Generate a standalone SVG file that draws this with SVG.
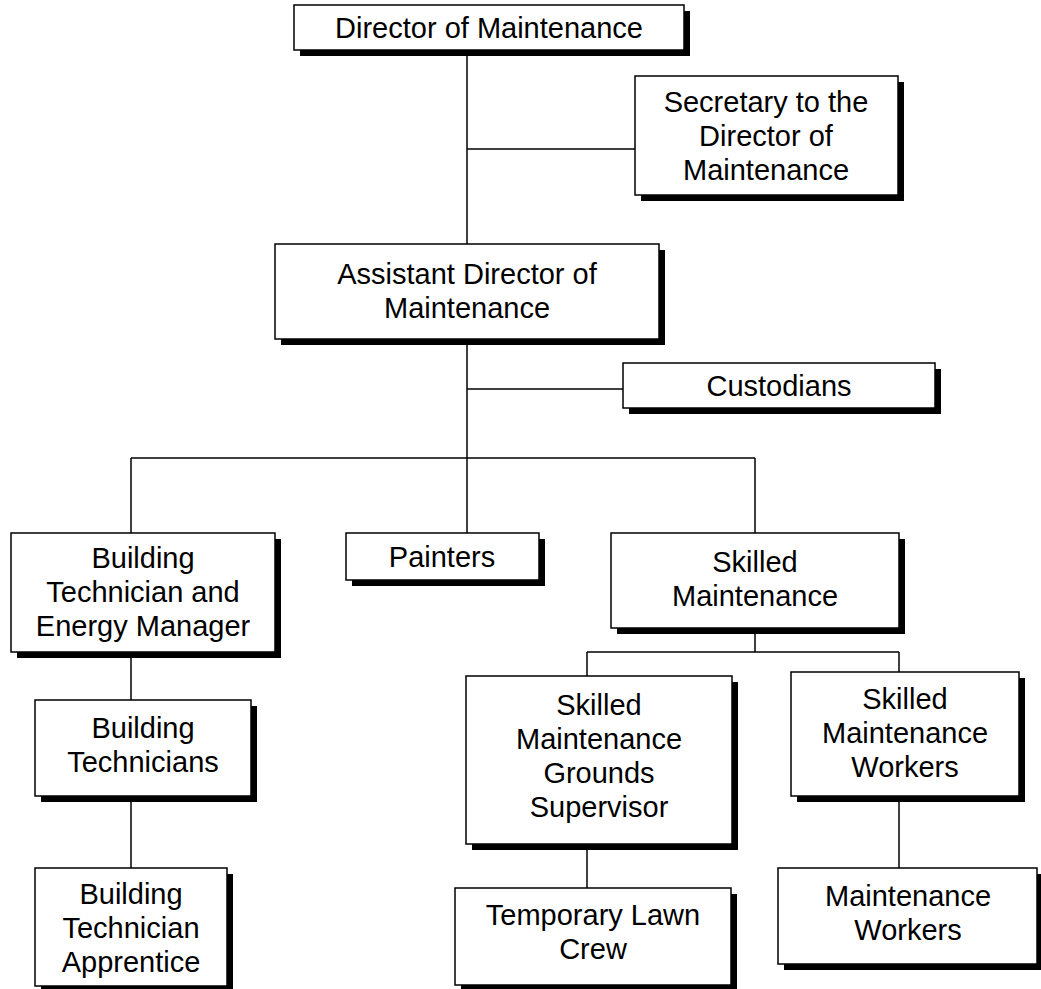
<svg xmlns="http://www.w3.org/2000/svg" width="1041" height="989" viewBox="0 0 1041 989">
  <style>
    .box { fill: #ffffff; stroke: #000000; stroke-width: 1.5; }
    .shadow { fill: #000000; }
    .lbl { font-family: "Liberation Sans", Arial, sans-serif; font-size: 29px; fill: #000000; text-anchor: middle; }
    .conn { fill: none; stroke: #000000; stroke-width: 1.5; }
  </style>
  <rect width="1041" height="989" fill="#ffffff"/>

  <!-- connectors -->
  <g id="connectors" class="conn">
    <path d="M467 50 V244"/>
    <path d="M467 149 H635"/>
    <path d="M467 339 V533"/>
    <path d="M467 389 H623"/>
    <path d="M131 458 H755"/>
    <path d="M131 458 V533"/>
    <path d="M755 458 V533"/>
    <path d="M131 652 V700"/>
    <path d="M131 796 V868"/>
    <path d="M755 628 V652"/>
    <path d="M587 652 H899"/>
    <path d="M587 652 V676"/>
    <path d="M899 652 V672"/>
    <path d="M587 844 V888"/>
    <path d="M899 796 V868"/>
  </g>

  <g id="director">
    <rect class="shadow" x="300" y="11" width="390" height="45"/>
    <rect class="box" x="294" y="5" width="390" height="45"/>
    <text class="lbl" x="489" y="38">Director of Maintenance</text>
  </g>

  <g id="secretary">
    <rect class="shadow" x="641" y="82" width="263" height="119"/>
    <rect class="box" x="635" y="76" width="263" height="119"/>
    <text class="lbl" x="766" y="112">Secretary to the</text>
    <text class="lbl" x="766" y="146">Director of</text>
    <text class="lbl" x="766" y="180">Maintenance</text>
  </g>

  <g id="assistant-director">
    <rect class="shadow" x="281" y="250" width="384" height="95"/>
    <rect class="box" x="275" y="244" width="384" height="95"/>
    <text class="lbl" x="467" y="284">Assistant Director of</text>
    <text class="lbl" x="467" y="318">Maintenance</text>
  </g>

  <g id="custodians">
    <rect class="shadow" x="629" y="369" width="312" height="45"/>
    <rect class="box" x="623" y="363" width="312" height="45"/>
    <text class="lbl" x="779" y="396">Custodians</text>
  </g>

  <g id="building-tech-energy">
    <rect class="shadow" x="17" y="539" width="264" height="119"/>
    <rect class="box" x="11" y="533" width="264" height="119"/>
    <text class="lbl" x="143" y="568">Building</text>
    <text class="lbl" x="143" y="602">Technician and</text>
    <text class="lbl" x="143" y="636">Energy Manager</text>
  </g>

  <g id="painters">
    <rect class="shadow" x="352" y="539" width="193" height="47"/>
    <rect class="box" x="346" y="533" width="193" height="47"/>
    <text class="lbl" x="442" y="567">Painters</text>
  </g>

  <g id="skilled-maintenance">
    <rect class="shadow" x="617" y="539" width="288" height="95"/>
    <rect class="box" x="611" y="533" width="288" height="95"/>
    <text class="lbl" x="755" y="572">Skilled</text>
    <text class="lbl" x="755" y="606">Maintenance</text>
  </g>

  <g id="building-technicians">
    <rect class="shadow" x="41" y="706" width="216" height="96"/>
    <rect class="box" x="35" y="700" width="216" height="96"/>
    <text class="lbl" x="143" y="738">Building</text>
    <text class="lbl" x="143" y="772">Technicians</text>
  </g>

  <g id="building-tech-apprentice">
    <rect class="shadow" x="41" y="874" width="192" height="119"/>
    <rect class="box" x="35" y="868" width="192" height="118"/>
    <text class="lbl" x="131" y="904">Building</text>
    <text class="lbl" x="131" y="938">Technician</text>
    <text class="lbl" x="131" y="972">Apprentice</text>
  </g>

  <g id="grounds-supervisor">
    <rect class="shadow" x="472" y="682" width="266" height="168"/>
    <rect class="box" x="466" y="676" width="266" height="168"/>
    <text class="lbl" x="599" y="715">Skilled</text>
    <text class="lbl" x="599" y="749">Maintenance</text>
    <text class="lbl" x="599" y="783">Grounds</text>
    <text class="lbl" x="599" y="817">Supervisor</text>
  </g>

  <g id="skilled-workers">
    <rect class="shadow" x="797" y="678" width="228" height="124"/>
    <rect class="box" x="791" y="672" width="228" height="124"/>
    <text class="lbl" x="905" y="709">Skilled</text>
    <text class="lbl" x="905" y="743">Maintenance</text>
    <text class="lbl" x="905" y="777">Workers</text>
  </g>

  <g id="lawn-crew">
    <rect class="shadow" x="461" y="894" width="276" height="97"/>
    <rect class="box" x="455" y="888" width="276" height="97"/>
    <text class="lbl" x="593" y="925">Temporary Lawn</text>
    <text class="lbl" x="593" y="959">Crew</text>
  </g>

  <g id="maintenance-workers">
    <rect class="shadow" x="784" y="874" width="259" height="96"/>
    <rect class="box" x="778" y="868" width="259" height="96"/>
    <text class="lbl" x="908" y="906">Maintenance</text>
    <text class="lbl" x="908" y="940">Workers</text>
  </g>
</svg>
